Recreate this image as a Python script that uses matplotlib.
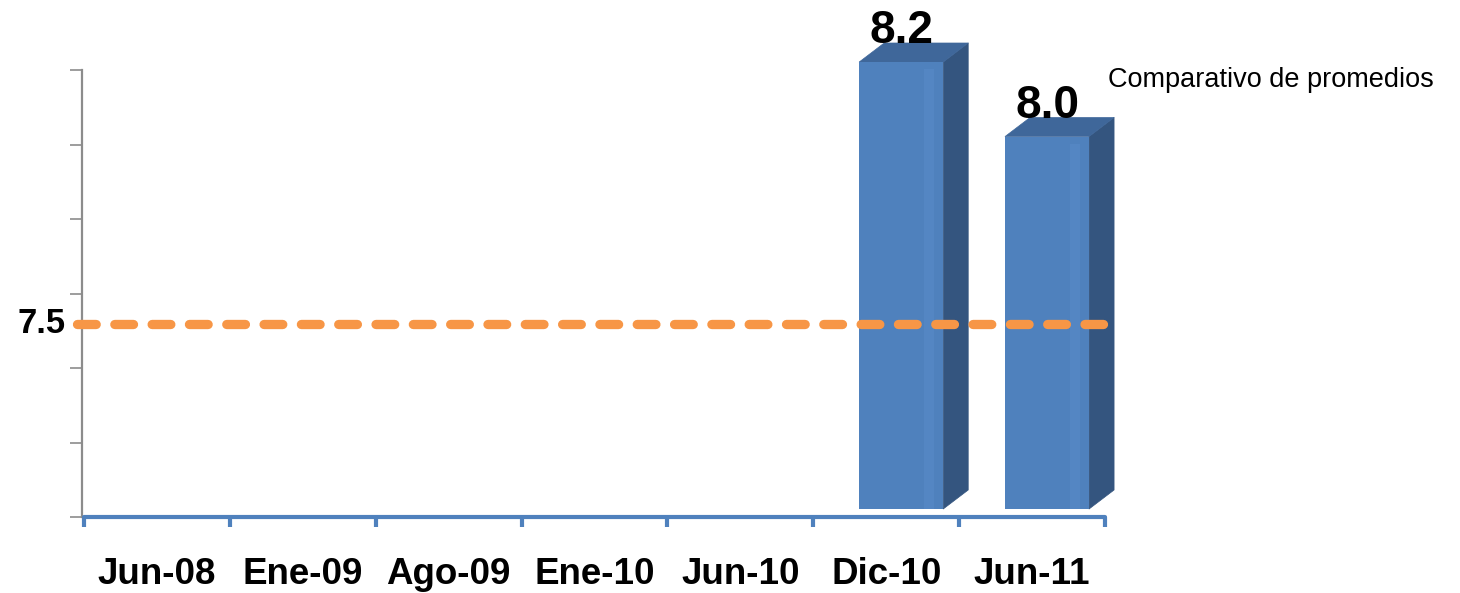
import numpy as np
import matplotlib
matplotlib.use("Agg")
import matplotlib.pyplot as plt
from matplotlib.patches import Polygon
from matplotlib.transforms import ScaledTranslation

# ---- data ----
categories = ["Jun-08", "Ene-09", "Ago-09", "Ene-10", "Jun-10", "Dic-10", "Jun-11"]
values = [None, None, None, None, None, 8.2, 8.0]
value_labels = ["8.2", "8.0"]
reference_value = 7.5
reference_label = "7.5"
legend_text = "Comparativo de promedios"
y_min, y_max, y_step = 7.0, 8.2, 0.2

# ---- style ----
FRONT = "#4F81BD"
SIDE = "#34557F"
TOP = "#3F679A"
ORANGE = "#F79646"
GRAY = "#8C8C8C"
FONT = "Liberation Sans"

W, H, DPI = 1460, 593, 100
fig = plt.figure(figsize=(W / DPI, H / DPI), dpi=DPI)
ax_l, ax_r, ax_t, ax_b = 84, 1105, 70, 517
ax = fig.add_axes([ax_l / W, (H - ax_b) / H, (ax_r - ax_l) / W, (ax_b - ax_t) / H])

n = len(categories)
ax.set_xlim(-0.5, n - 0.5)
ax.set_ylim(y_min, y_max)
px_x = (ax_r - ax_l) / n                 # px per x unit
px_y = (ax_b - ax_t) / (y_max - y_min)   # px per y unit

lift = ScaledTranslation(0, 8 / DPI, fig.dpi_scale_trans)
tr = ax.transData + lift

bar_w = 84 / px_x
bar_shift = 15 / px_x
dx = 25 / px_x
dy = 19 / px_y

vi = 0
for i, v in enumerate(values):
    if v is None:
        continue
    xl = i + bar_shift - bar_w / 2
    xr = xl + bar_w
    side = Polygon([(xr, y_min), (xr + dx, y_min + dy), (xr + dx, v + dy), (xr, v)],
                   closed=True, facecolor=SIDE, edgecolor=SIDE, lw=0.5,
                   transform=tr, clip_on=False, zorder=2, joinstyle="round")
    ax.add_patch(side)
    top = Polygon([(xl, v), (xl + dx, v + dy), (xr + dx, v + dy), (xr, v)],
                  closed=True, facecolor=TOP, edgecolor=TOP, lw=0.5,
                  transform=tr, clip_on=False, zorder=2, joinstyle="round")
    ax.add_patch(top)
    ax.bar([i + bar_shift], [v - y_min], bottom=y_min, width=bar_w, color=FRONT,
           transform=tr, clip_on=False, zorder=3)
    # soft highlight band
    ax.bar([i + bar_shift + bar_w * 0.33], [v - y_min - 0.02], bottom=y_min, width=bar_w * 0.12,
           color="#5B8ECB", alpha=0.45, transform=tr, clip_on=False, zorder=3.1, lw=0)
    ax.text(i + bar_shift, v + dy, value_labels[vi], ha="center", va="baseline",
            fontsize=33, fontweight="bold", family=FONT, transform=tr, clip_on=False, zorder=5)
    vi += 1

# reference dashed line
ref_tr = ax.transData + ScaledTranslation(0, 7 / DPI, fig.dpi_scale_trans)
ax.plot([-0.5 - 7.4 / px_x, n - 0.5 - 1.6 / px_x], [reference_value, reference_value],
        color=ORANGE, lw=6.7, dashes=(2.01, 2.0), dash_capstyle="round",
        transform=ref_tr, clip_on=False, zorder=4)
ax.text(-0.5 - 18 / px_x, reference_value, reference_label, ha="right", va="center",
        fontsize=25, fontweight="bold", family=FONT, transform=ref_tr, clip_on=False)

# spines
for s in ["top", "right"]:
    ax.spines[s].set_visible(False)
ax.spines["left"].set_color(GRAY)
ax.spines["left"].set_linewidth(1.6)
ax.spines["left"].set_position(("outward", 1.5))
ax.spines["bottom"].set_color(FRONT)
ax.spines["bottom"].set_linewidth(3)
ax.spines["bottom"].set_capstyle("round")
ax.spines["bottom"].set_zorder(6)

# y ticks (no labels)
ax.set_yticks(np.arange(y_min, y_max + 1e-9, y_step))
ax.set_yticklabels([])
ax.tick_params(axis="y", length=9, width=1.2, color=GRAY, direction="out")

# x ticks: labels at centers, marks at boundaries
ax.set_xticks(np.arange(n))
ax.set_xticklabels(categories, fontsize=26.5, fontweight="bold", family=FONT)
ax.tick_params(axis="x", which="major", length=0, pad=29)
ax.set_xticks(np.arange(n + 1) - 0.5, minor=True)
ax.tick_params(axis="x", which="minor", length=7, width=3, color=FRONT, direction="out")
for t in ax.xaxis.get_minorticklines():
    t.set_solid_capstyle("round")

fig.text(1108 / W, 1 - 80 / H, legend_text, ha="left", va="center",
         fontsize=19.5, family=FONT)

fig.savefig("out.png", dpi=DPI, facecolor="white")
